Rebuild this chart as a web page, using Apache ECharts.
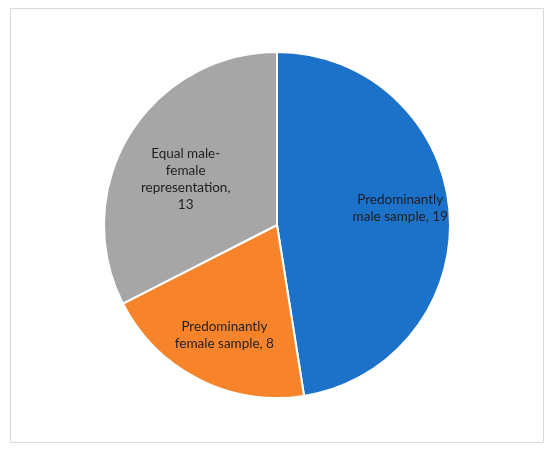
<!DOCTYPE html>
<html>
<head>
<meta charset="utf-8">
<script src="https://cdn.jsdelivr.net/npm/echarts@6/dist/echarts.min.js"></script>
<style>
  html, body { margin: 0; padding: 0; background: #fff; }
  #main { width: 550px; height: 450px; }
</style>
</head>
<body>
<div id="main"></div>
<script>
var categories = ['Predominantly\nmale sample', 'Predominantly\nfemale sample', 'Equal male-\nfemale\nrepresentation,'];
var counts = [19, 8, 13];

var sliceColors = ['#1c71c9', '#f7842a', '#a6a6a6'];
// nudge labels to where Excel's best fit put them
var labelOffsets = [[34, -10], [-12, 30], [-15, 1]];

var chart = echarts.init(document.getElementById('main'));

var pieData = categories.map(function (name, i) {
    return {
        name: name,
        value: counts[i],
        itemStyle: { color: sliceColors[i] },
        label: { offset: labelOffsets[i] }
    };
});

var option = {
    animation: false,
    graphic: [{
        type: 'rect',
        shape: { x: 10.5, y: 8.5, width: 533, height: 434 },
        style: { fill: 'none', stroke: '#d9d9d9', lineWidth: 1 },
        silent: true
    }],
    series: [{
        type: 'pie',
        center: [277, 225],
        radius: 173,
        startAngle: 90,
        clockwise: true,
        itemStyle: { borderColor: '#fff', borderWidth: 2 },
        label: {
            show: true,
            position: 'inside',
            color: '#1f1f1f',
            fontFamily: 'Lato',
            fontSize: 13.5,
            lineHeight: 17,
            align: 'center',
            formatter: function (p) {
                // the equal slice puts its value on its own line
                return p.dataIndex === 2 ? p.name + '\n' + p.value : p.name + ', ' + p.value;
            }
        },
        labelLine: { show: false },
        emphasis: { disabled: true },
        data: pieData
    }]
};

chart.setOption(option);
</script>
</body>
</html>
